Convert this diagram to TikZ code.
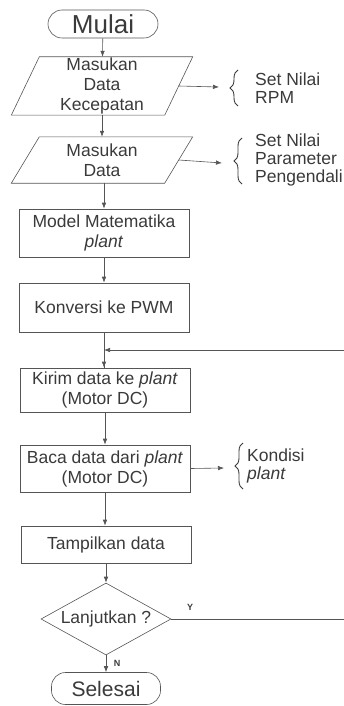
\documentclass[tikz,border=0pt]{standalone}
\usepackage{fontspec}
\setmainfont{Liberation Sans}
\usetikzlibrary{shapes.geometric,arrows.meta,decorations.pathreplacing}
\definecolor{ink}{HTML}{3A3A3A}
\definecolor{linec}{HTML}{555555}
\begin{document}
\begin{tikzpicture}[x=1pt,y=-1pt,
  every node/.style={text=ink},
  txt/.style={font=\fontsize{17.5}{20}\selectfont, align=center},
  sidetxt/.style={font=\fontsize{17.5}{18}\selectfont, align=left, anchor=west, inner sep=0},
  term/.style={draw=linec, line width=0.6pt, rounded corners=14pt, inner sep=0},
  procbox/.style={txt, draw=linec, line width=0.6pt, minimum width=170, inner sep=0},
  iobox/.style={txt, minimum width=153, inner sep=0},
  decis/.style={txt, draw=linec, line width=0.6pt, diamond, aspect=1.8, minimum width=130, minimum height=72, inner sep=0},
  flow/.style={draw=linec, line width=0.6pt, -{Latex[length=6pt,width=4.5pt]}},
  brc/.style={draw=ink, line width=0.9pt, decorate, decoration={brace, amplitude=8pt}},
  yn/.style={font=\fontsize{9}{10}\selectfont\bfseries, inner sep=0}
]
\useasboundingbox (0,0) rectangle (344,706);

\node[term, minimum width=110, minimum height=28, font=\fontsize{26}{28}\selectfont] (mulai) at (103,24) {Mulai};
\node[iobox, minimum height=58] (p1) at (102,86) {Masukan\\Data\\Kecepatan};
\node[iobox, minimum height=46] (p2) at (102,160) {Masukan\\Data};
\foreach \n in {p1,p2}{
  \draw[linec, line width=0.6pt] ([xshift=14pt]\n.north west) -- ([xshift=14pt]\n.north east)
    -- ([xshift=-14pt]\n.south east) -- ([xshift=-14pt]\n.south west) -- cycle;
}
\node[procbox, minimum height=48] (model) at (104,233) {Model Matematika\\\textit{plant}};
\node[procbox, minimum height=49] (pwm) at (104,307.5) {Konversi ke PWM};
\node[procbox, minimum height=44] (kirim) at (105,390) {Kirim data ke \textit{plant}\\(Motor DC)};
\node[procbox, minimum height=47] (baca) at (105,468.5) {Baca data dari \textit{plant}\\(Motor DC)};
\node[procbox, minimum height=37] (tampil) at (106,544.5) {Tampilkan data};
\node[decis] (lanjut) at (106,619) {Lanjutkan ?};
\node[term, minimum width=109, minimum height=32, font=\fontsize{21}{24}\selectfont] (selesai) at (106,688.5) {Selesai};

% side notes
\node[sidetxt] (t1) at (255,88) {Set Nilai\\RPM};
\node[sidetxt] (t2) at (255,160) {Set Nilai\\Parameter\\Pengendali};
\node[sidetxt] (t3) at (247,466) {Kondisi\\\textit{plant}};
\coordinate (b1t) at (238,70); \coordinate (b1b) at (238,106);
\coordinate (b2t) at (242,138); \coordinate (b2b) at (242,184);
\coordinate (b3t) at (243,443); \coordinate (b3b) at (243,489);
\draw[brc] (b1b) -- (b1t);
\draw[brc] (b2b) -- (b2t);
\draw[brc] (b3b) -- (b3t);
\coordinate (b1) at (219,87);
\coordinate (b2) at (222,163);
\coordinate (b3) at (224,468);

% flow
\draw[flow] (mulai) -- (p1);
\draw[flow] (p1) -- (p2);
\draw[flow] (p2.south -| model.north) -- (model);
\draw[flow] (model) -- (pwm);
\draw[linec, line width=0.6pt] (pwm.south) -- (pwm.south |- kirim.north);
\draw[flow] (pwm.south |- 0,360) -- (kirim.north -| pwm.south);
\draw[flow] (kirim.south) -- (kirim.south |- baca.north);
\draw[flow] (baca) -- (tampil.north -| baca.south);
\draw[flow] (tampil) -- (lanjut);
\draw[flow] (lanjut) -- (selesai);
\draw[flow] (p1.east) -- (b1);
\draw[flow] (p2.east) -- (b2);
\draw[flow] (baca.east) -- (b3);

% feedback
\coordinate (fbr) at (347,619);
\coordinate (fbt) at (347,350);
\draw[flow] (lanjut.east) -- (fbr) -- (fbt) -- (fbt -| pwm.south);

\node[yn] (ylab) at (190,607) {Y};
\node[yn] (nlab) at (117,663) {N};
\end{tikzpicture}
\end{document}
